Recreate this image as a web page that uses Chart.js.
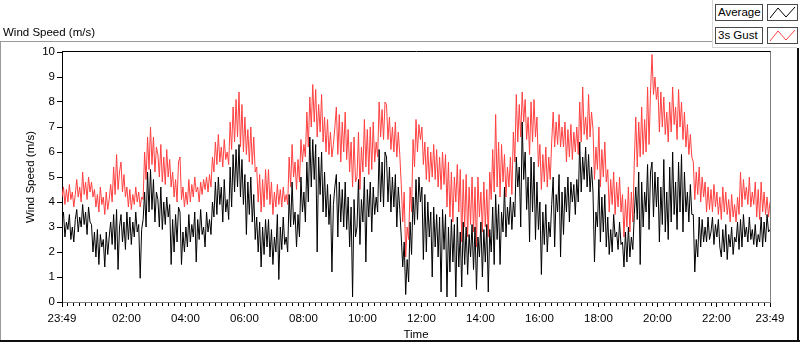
<!DOCTYPE html>
<html>
<head>
<meta charset="utf-8">
<script src="https://cdn.jsdelivr.net/npm/chart.js@4/dist/chart.umd.min.js"></script>
<style>
  html, body { margin: 0; padding: 0; background: #fff; }
  #wrap { position: relative; width: 800px; height: 342px; overflow: hidden;
          font-family: 'Liberation Sans', Arial, sans-serif; }
  #wrap canvas { position: absolute; left: 0; top: 0; }
  .txt { position: absolute; font-size: 11.5px; line-height: 14px; color: #000; white-space: nowrap; }
  .box { position: absolute; box-sizing: border-box; border: 1px solid #4a4a4a; background: #fff;
         font-size: 11.5px; line-height: 14px; padding-left: 2px; color: #000; white-space: nowrap; }
  .box svg { position: absolute; left: 0; top: 0; }
</style>
</head>
<body>
<div id="wrap">
  <canvas id="chart" width="800" height="342"></canvas>
  <div class="txt" style="left:3px;top:25px;">Wind Speed (m/s)</div>
  <div class="box" style="left:715px;top:4px;width:48px;height:17px;">Average</div>
  <div class="box" style="left:767px;top:4px;width:31px;height:17px;">
    <svg width="29" height="15"><polyline points="2,13 10,3 18,12 27,2" fill="none" stroke="#000" stroke-width="1"/></svg>
  </div>
  <div class="box" style="left:715px;top:27px;width:48px;height:17px;">3s Gust</div>
  <div class="box" style="left:767px;top:27px;width:31px;height:17px;">
    <svg width="29" height="15"><polyline points="2,13 10,3 18,12 27,2" fill="none" stroke="#ff4040" stroke-width="1"/></svg>
  </div>
</div>
<script>
// minutes after 23:49, one sample every 3 min (one row = one hour)
const stepMinutes = 3;

const gust = [
  4.2, 4.6, 3.9, 4.5, 4.0, 4.7, 4.1, 4.4, 3.8, 4.3, 4.9, 4.2, 4.6, 4.0, 5.2, 4.3, 4.8, 4.1, 5.0, 4.4,
  4.8, 4.2, 4.5, 3.8, 4.3, 3.6, 4.6, 3.9, 4.2, 3.5, 4.4, 3.7, 4.1, 4.7, 4.0, 5.4, 4.3, 5.9, 4.5, 5.2,
  5.6, 4.4, 5.1, 4.2, 4.6, 3.8, 4.5, 3.7, 4.3, 3.9, 4.6, 4.0, 4.4, 3.8, 4.2, 4.1, 6.0, 4.9, 6.6, 5.3,
  7.0, 5.5, 6.6, 5.2, 6.2, 5.9, 5.0, 6.3, 4.8, 5.8, 4.7, 6.1, 5.0, 5.7, 4.6, 5.2, 4.2, 4.9, 4.0, 5.6,
  5.8, 4.1, 4.6, 3.8, 4.4, 3.9, 4.9, 4.0, 4.7, 4.2, 5.0, 4.4, 4.6, 4.0, 4.8, 4.3, 4.9, 4.5, 5.0, 4.4,
  5.1, 4.6, 5.8, 5.2, 6.4, 5.5, 6.7, 5.6, 6.2, 5.4, 6.5, 5.7, 6.0, 5.5, 7.2, 6.1, 7.8, 6.4, 8.1, 6.6,
  8.4, 6.2, 7.9, 6.0, 7.4, 5.9, 6.9, 5.6, 7.0, 5.5, 6.6, 5.2, 5.4, 4.0, 5.1, 3.6, 4.9, 3.8, 5.3, 4.1,
  5.3, 3.9, 4.8, 3.5, 4.4, 3.8, 4.7, 3.9, 4.5, 3.8, 4.6, 4.0, 4.3, 3.9, 5.8, 4.6, 6.3, 5.0, 5.6, 4.5,
  5.7, 4.8, 6.5, 5.6, 6.3, 5.8, 7.6, 6.2, 8.2, 7.0, 8.7, 7.2, 8.5, 6.6, 7.9, 6.8, 8.3, 6.4, 7.4, 6.0,
  7.3, 5.9, 6.8, 5.8, 6.3, 7.0, 7.8, 5.9, 7.5, 5.6, 7.2, 6.0, 7.6, 5.7, 6.9, 5.2, 6.4, 4.6, 6.6, 4.8,
  5.0, 6.8, 4.5, 6.2, 5.2, 7.3, 5.4, 6.9, 5.1, 7.0, 5.3, 7.2, 5.6, 6.4, 5.8, 8.0, 6.6, 7.7, 6.5, 8.0,
  7.9, 6.5, 7.4, 6.1, 7.0, 6.0, 7.2, 5.8, 6.8, 5.9, 4.7, 3.2, 4.4, 1.8, 3.0, 2.5, 4.6, 3.6, 6.5, 5.4,
  7.3, 6.0, 7.1, 6.5, 7.0, 5.5, 6.4, 4.9, 6.2, 4.8, 6.0, 5.0, 6.3, 4.9, 6.1, 4.6, 5.8, 4.5, 6.0, 4.7,
  5.9, 3.8, 5.6, 3.4, 5.2, 3.2, 5.0, 4.0, 5.5, 3.6, 5.3, 2.4, 4.9, 3.0, 5.1, 2.6, 4.6, 3.1, 5.0, 2.8,
  4.6, 2.2, 5.0, 3.4, 4.4, 2.8, 4.8, 3.0, 4.5, 2.6, 5.2, 4.1, 6.1, 4.4, 7.5, 4.6, 6.4, 4.2, 6.3, 4.8,
  5.9, 4.2, 5.4, 4.6, 5.8, 4.3, 6.8, 5.6, 8.3, 6.4, 7.9, 6.6, 8.4, 7.2, 8.1, 6.5, 7.4, 5.9, 8.0, 6.4,
  8.1, 6.6, 7.4, 5.4, 6.3, 4.5, 5.9, 4.8, 6.2, 4.6, 5.8, 4.9, 6.4, 7.6, 6.2, 7.2, 6.3, 7.5, 6.2, 7.0,
  6.2, 7.2, 5.6, 6.9, 5.8, 7.1, 5.7, 6.8, 6.0, 7.0, 5.9, 8.0, 6.4, 8.6, 6.7, 7.4, 6.5, 8.3, 6.6, 7.6,
  6.9, 4.9, 6.2, 5.3, 7.0, 4.6, 6.1, 5.0, 6.4, 4.8, 5.3, 3.6, 4.9, 3.9, 5.2, 3.5, 4.8, 3.8, 5.0, 3.6,
  4.3, 2.6, 4.1, 3.0, 4.6, 2.8, 4.4, 3.2, 5.6, 7.4, 5.4, 7.2, 5.8, 7.8, 5.9, 7.3, 6.0, 8.6, 6.3, 8.4,
  9.9, 8.3, 9.0, 8.1, 8.6, 6.8, 8.4, 7.0, 8.2, 6.7, 7.6, 6.4, 8.0, 6.8, 8.6, 7.1, 7.8, 6.5, 8.5, 7.0,
  8.0, 6.5, 7.6, 6.2, 7.1, 5.9, 6.7, 5.8, 5.6, 4.1, 5.2, 4.3, 5.4, 4.0, 5.0, 4.2, 4.8, 3.6, 4.6, 3.7,
  4.5, 3.6, 4.7, 3.8, 4.4, 3.5, 4.2, 3.3, 4.6, 3.6, 4.4, 3.5, 4.1, 3.2, 4.3, 3.4, 3.9, 3.2, 4.2, 3.5,
  5.2, 3.8, 4.9, 4.1, 4.6, 3.9, 5.0, 3.8, 4.4, 3.9, 4.8, 3.4, 4.5, 3.3, 4.8, 3.6, 4.4, 3.5, 4.2, 3.4,
  4.0
];

const average = [
  3.3, 3.6, 2.6, 3.2, 2.9, 3.5, 2.5, 3.0, 2.4, 3.3, 3.7, 2.8, 3.4, 3.0, 3.9, 3.1, 3.6, 2.7, 3.8, 3.2,
  3.1, 2.0, 2.8, 1.8, 2.9, 1.5, 2.7, 2.2, 2.5, 1.4, 2.8, 1.9, 2.6, 3.2, 2.3, 3.5, 2.1, 3.7, 1.3, 3.0,
  3.5, 2.4, 3.2, 2.1, 3.6, 2.5, 3.4, 2.3, 3.2, 2.6, 3.6, 2.8, 3.1, 0.95, 2.9, 3.3, 4.4, 3.0, 5.2, 3.6,
  5.3, 3.7, 4.9, 3.2, 4.4, 4.1, 3.0, 4.6, 2.9, 4.0, 3.1, 4.2, 3.4, 3.9, 1.5, 3.3, 2.0, 3.5, 2.4, 3.8,
  3.6, 1.5, 2.8, 2.0, 3.0, 2.2, 3.5, 2.4, 3.1, 2.6, 3.6, 1.6, 3.3, 2.5, 3.7, 2.7, 3.0, 2.2, 3.6, 2.8,
  3.3, 2.7, 4.0, 3.4, 4.8, 3.5, 5.0, 3.9, 4.6, 3.2, 4.9, 3.6, 4.1, 3.3, 5.4, 3.8, 5.9, 4.4, 6.1, 4.6,
  6.3, 4.2, 5.7, 3.9, 5.1, 2.7, 4.8, 3.5, 5.0, 3.2, 4.3, 2.5, 3.4, 2.0, 3.2, 1.4, 3.0, 1.9, 3.3, 2.2,
  3.3, 1.8, 2.9, 1.5, 2.6, 2.0, 3.5, 0.9, 3.0, 2.1, 3.4, 2.3, 2.6, 2.0, 4.3, 3.0, 4.8, 3.1, 3.6, 2.2,
  3.5, 2.6, 5.0, 3.6, 4.4, 3.2, 5.6, 4.0, 6.6, 4.6, 6.5, 4.9, 6.3, 2.0, 5.8, 4.3, 6.0, 3.6, 5.2, 3.4,
  4.7, 3.1, 4.3, 1.2, 3.9, 4.6, 5.1, 2.6, 4.8, 3.2, 4.5, 3.0, 4.8, 2.9, 4.2, 2.2, 3.8, 0.2, 4.1, 2.6,
  3.0, 4.9, 2.3, 4.1, 3.2, 5.0, 1.6, 4.5, 3.4, 4.8, 2.8, 4.6, 3.5, 4.2, 3.6, 6.1, 4.0, 5.6, 3.8, 6.0,
  5.8, 4.0, 5.4, 3.6, 5.0, 3.8, 5.1, 3.0, 4.6, 3.7, 2.6, 1.4, 2.4, 0.3, 1.7, 0.8, 3.2, 1.9, 4.2, 3.1,
  4.9, 3.3, 5.0, 4.0, 4.6, 1.7, 4.3, 2.0, 4.0, 2.6, 3.6, 1.0, 3.8, 2.2, 3.5, 1.8, 3.4, 0.4, 3.7, 2.1,
  3.5, 0.2, 3.0, 1.2, 3.3, 1.6, 3.1, 0.2, 3.4, 1.4, 2.8, 0.6, 3.2, 1.5, 3.0, 1.1, 2.7, 1.8, 3.1, 1.3,
  3.0, 0.5, 2.6, 1.8, 3.2, 1.0, 2.9, 1.6, 3.1, 0.4, 2.9, 2.0, 3.8, 1.5, 4.3, 2.5, 3.9, 1.5, 3.6, 2.8,
  4.6, 2.6, 3.8, 3.1, 4.2, 2.9, 4.0, 3.4, 5.8, 4.6, 5.4, 3.0, 7.2, 4.9, 6.0, 3.7, 5.0, 2.4, 5.8, 3.6,
  5.6, 2.5, 4.8, 2.9, 4.0, 1.1, 3.6, 2.3, 3.9, 2.0, 3.2, 2.6, 3.9, 5.0, 2.2, 4.3, 3.6, 5.1, 1.8, 4.4,
  2.7, 4.6, 3.6, 5.0, 3.2, 4.8, 4.0, 4.7, 3.5, 4.9, 4.0, 6.4, 4.4, 5.8, 4.9, 6.2, 4.6, 5.9, 4.4, 5.4,
  4.4, 1.6, 3.6, 3.0, 4.9, 2.4, 4.2, 2.8, 4.3, 2.2, 3.4, 1.9, 2.9, 2.0, 3.5, 2.6, 2.8, 2.1, 3.2, 2.3,
  2.4, 1.4, 2.8, 1.6, 3.0, 1.8, 2.6, 2.1, 3.5, 4.6, 3.3, 5.2, 1.5, 4.8, 3.0, 4.4, 3.6, 5.5, 2.9, 5.2,
  5.6, 3.4, 5.2, 3.8, 5.0, 2.4, 4.6, 3.1, 5.7, 2.8, 4.4, 2.5, 5.4, 3.2, 6.0, 3.5, 4.8, 2.9, 5.6, 3.6,
  5.9, 2.8, 5.2, 3.6, 4.4, 3.2, 4.7, 3.5, 3.5, 1.2, 2.5, 1.8, 3.4, 2.2, 3.3, 2.4, 3.0, 2.4, 3.4, 2.5,
  2.8, 3.4, 2.3, 3.1, 2.6, 3.3, 2.2, 1.8, 2.9, 2.0, 3.1, 1.7, 2.7, 2.2, 3.0, 1.9, 2.6, 2.4, 3.2, 2.1,
  3.3, 2.2, 3.5, 2.6, 3.0, 2.4, 3.4, 2.5, 2.9, 2.3, 3.1, 2.2, 2.7, 2.4, 3.4, 2.2, 3.2, 2.4, 3.5, 2.8,
  2.9
];

const tickMinutes = [0, 131, 251, 371, 491, 611, 731, 851, 971, 1091, 1211, 1331, 1440];
const tickLabels = ['23:49', '02:00', '04:00', '06:00', '08:00', '10:00', '12:00',
                    '14:00', '16:00', '18:00', '20:00', '22:00', '23:49'];

const toPoints = arr => arr.map((v, i) => ({ x: i * stepMinutes, y: v }));

const font = { family: "'Liberation Sans', Arial, sans-serif", size: 11.5 };

// frame lines and minor ticks around the plot
const framePlugin = {
  id: 'frame',
  beforeDraw(chart) {
    const c = chart.ctx;
    c.save();
    c.fillStyle = '#fff';
    c.fillRect(0, 0, chart.width, chart.height);
    c.lineWidth = 1;
    c.strokeStyle = '#9a9a9a';
    c.beginPath();
    c.moveTo(0, 41.5); c.lineTo(712, 41.5);
    c.moveTo(0.5, 42); c.lineTo(0.5, 342);
    c.stroke();
    c.strokeStyle = '#d6d6d6';
    c.beginPath();
    c.moveTo(712.5, 0); c.lineTo(712.5, 48);
    c.moveTo(712, 47.5); c.lineTo(797, 47.5);
    c.stroke();
    c.strokeStyle = '#101010';
    c.lineWidth = 2;
    c.beginPath();
    c.moveTo(798, 48); c.lineTo(798, 342);
    c.moveTo(0, 341); c.lineTo(800, 341);
    c.stroke();
    c.restore();
  },
  afterDraw(chart) {
    const c = chart.ctx, a = chart.chartArea, x = chart.scales.x;
    c.save();
    c.lineWidth = 1;
    c.strokeStyle = '#000';
    c.beginPath();
    c.moveTo(a.left, 51.5); c.lineTo(a.right + 1, 51.5);
    c.stroke();
    c.strokeStyle = '#808080';
    c.beginPath();
    c.moveTo(a.right + 0.5, 51.5); c.lineTo(a.right + 0.5, a.bottom);
    c.stroke();
    c.strokeStyle = '#000';
    c.beginPath();
    for (let t = 11; t < 1440; t += 12) {
      const px = Math.round(x.getPixelForValue(t)) + 0.5;
      c.moveTo(px, a.bottom + 1); c.lineTo(px, a.bottom + 4);
    }
    c.stroke();
    c.restore();
  }
};

new Chart(document.getElementById('chart'), {
  type: 'line',
  data: {
    datasets: [
      { label: 'Average', data: toPoints(average), borderColor: '#000', borderWidth: 1,
        pointRadius: 0, tension: 0, fill: false },
      { label: '3s Gust', data: toPoints(gust), borderColor: '#ff4040', borderWidth: 1,
        pointRadius: 0, tension: 0, fill: false }
    ]
  },
  options: {
    responsive: false,
    animation: false,
    events: [],
    layout: { padding: { top: 52, right: 30, bottom: 0, left: 0 } },
    plugins: { legend: { display: false }, tooltip: { enabled: false } },
    scales: {
      x: {
        type: 'linear', min: 0, max: 1440,
        afterFit: s => { s.height = 40; },
        afterBuildTicks: s => { s.ticks = tickMinutes.map(v => ({ value: v })); },
        ticks: {
          autoSkip: false, maxRotation: 0, minRotation: 0, padding: 5,
          color: '#000', font: font,
          callback: v => tickLabels[tickMinutes.indexOf(v)]
        },
        grid: { drawOnChartArea: false, drawTicks: true, tickLength: 5, tickColor: '#000' },
        border: { color: '#808080', width: 1 },
        title: { display: true, text: 'Time', color: '#000', font: font, padding: { top: 0, bottom: 0 } }
      },
      y: {
        min: 0, max: 10,
        afterFit: s => { s.width = 62; },
        ticks: { stepSize: 1, padding: 2, color: '#000', font: font },
        grid: { drawOnChartArea: false, drawTicks: true, tickLength: 5, tickColor: '#000' },
        border: { color: '#000', width: 1 },
        title: { display: true, text: 'Wind Speed (m/s)', color: '#000', font: font,
                 padding: { top: 24, bottom: 0 } }
      }
    }
  },
  plugins: [framePlugin]
});
</script>
</body>
</html>
